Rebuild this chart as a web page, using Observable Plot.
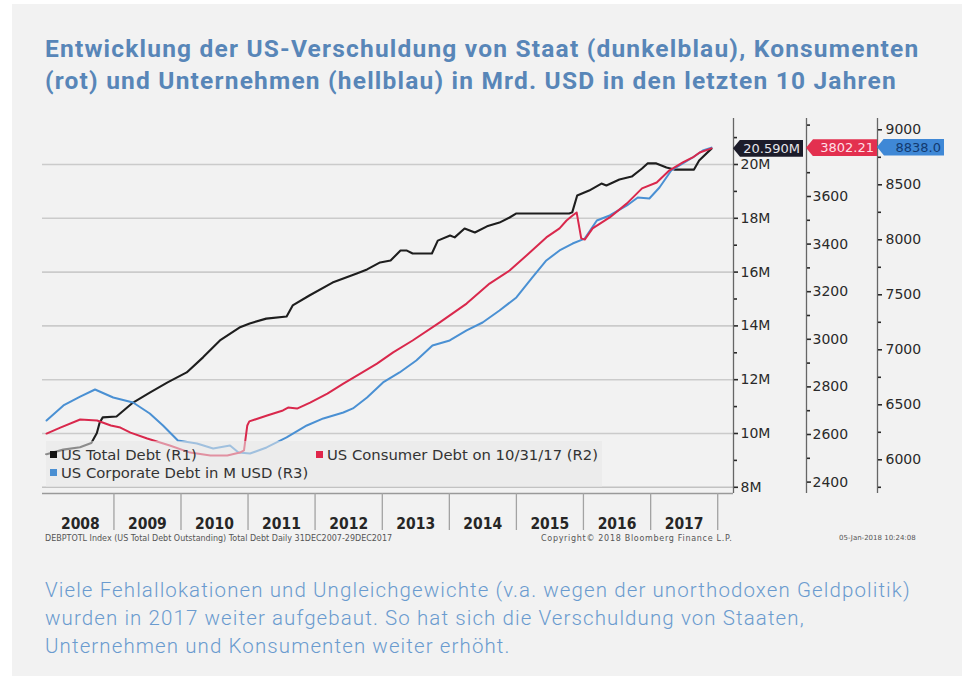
<!DOCTYPE html>
<html><head><meta charset="utf-8">
<script src="https://cdn.jsdelivr.net/npm/d3@7"></script>
<script src="https://cdn.jsdelivr.net/npm/@observablehq/plot@0.6"></script>
<style>
html,body{margin:0;padding:0;background:#fff;width:967px;height:677px;overflow:hidden;}
#panel{position:absolute;left:12px;top:4px;width:950px;height:672px;background:#f2f2f2;}
#title{position:absolute;left:45px;top:33px;font:bold 24.5px Roboto,sans-serif;letter-spacing:1.2px;color:#5886b8;line-height:32px;white-space:nowrap;}
#caption{position:absolute;left:45px;top:576px;font:300 20.5px Roboto,sans-serif;letter-spacing:1.1px;color:#6a9bcf;line-height:28px;white-space:nowrap;}
#chart{position:absolute;left:0;top:110px;width:967px;height:435px;}
#chart svg{position:absolute;left:0;top:0;background:transparent;overflow:visible;}
.leg{position:absolute;font:14.8px "DejaVu Sans",sans-serif;color:#333;white-space:nowrap;line-height:16px;}
.sq{position:absolute;width:7px;height:7px;}
.badge{position:absolute;height:17px;font:13px "DejaVu Sans",sans-serif;line-height:17px;text-align:right;padding-right:3px;box-sizing:border-box;clip-path:polygon(0 50%,7px 0,100% 0,100% 100%,7px 100%);}
.foot{position:absolute;top:534px;font:8px "DejaVu Sans",sans-serif;color:#555;white-space:nowrap;}
</style>
</head><body>
<div id="panel"></div>
<div id="title">Entwicklung der US-Verschuldung von Staat (dunkelblau), Konsumenten<br>(rot) und Unternehmen (hellblau) in Mrd. USD in den letzten 10 Jahren</div>
<div id="chart"></div>
<div id="caption">Viele Fehlallokationen und Ungleichgewichte (v.a. wegen der unorthodoxen Geldpolitik)<br>wurden in 2017 weiter aufgebaut. So hat sich die Verschuldung von Staaten,<br>Unternehmen und Konsumenten weiter erhöht.</div>
<script>
// ---------- data ----------
const totalDates = ["2007-12-31","2008-03-31","2008-06-30","2008-08-31","2008-09-30","2008-10-15","2008-11-01","2009-01-15","2009-04-15","2009-07-15","2009-10-20","2010-02-01","2010-05-01","2010-08-01","2010-11-15","2011-01-10","2011-04-10","2011-07-30","2011-09-01","2011-12-01","2012-04-05","2012-08-15","2012-10-10","2012-12-20","2013-02-15","2013-04-10","2013-05-15","2013-06-15","2013-09-28","2013-10-30","2014-01-05","2014-01-30","2014-03-25","2014-05-20","2014-07-25","2014-10-01","2014-11-25","2015-01-01","2015-02-25","2015-10-15","2015-11-01","2015-11-28","2016-02-01","2016-04-08","2016-05-05","2016-07-15","2016-09-20","2016-11-15","2016-12-15","2017-02-01","2017-03-28","2017-05-10","2017-08-25","2017-09-22","2017-11-28"];
const totalValues = [9.23,9.40,9.49,9.65,10.02,10.40,10.60,10.63,11.15,11.52,11.90,12.27,12.83,13.46,13.94,14.09,14.27,14.35,14.76,15.13,15.61,15.95,16.10,16.36,16.43,16.80,16.80,16.69,16.69,17.17,17.36,17.29,17.62,17.47,17.70,17.84,18.03,18.18,18.18,18.18,18.22,18.85,19.03,19.29,19.22,19.44,19.55,19.85,20.04,20.04,19.89,19.81,19.81,20.15,20.59];

const consumerDates = ["2007-12-31","2008-03-15","2008-07-01","2008-10-01","2008-12-15","2009-02-05","2009-04-01","2009-07-01","2009-11-01","2010-02-20","2010-06-10","2010-09-10","2010-11-18","2010-12-10","2010-12-28","2011-01-08","2011-04-15","2011-07-10","2011-08-07","2011-09-25","2011-12-05","2012-03-08","2012-06-03","2012-09-03","2012-12-03","2013-03-01","2013-06-15","2013-11-10","2014-04-05","2014-08-08","2014-11-25","2015-02-25","2015-06-13","2015-08-24","2015-10-01","2015-11-03","2015-11-25","2015-12-20","2016-01-08","2016-02-20","2016-05-23","2016-08-25","2016-11-15","2017-02-03","2017-04-12","2017-06-25","2017-08-18","2017-09-25","2017-11-28"];
const consumerValues = [2604,2629,2663,2659,2638,2629,2608,2583,2554,2524,2512,2512,2524,2533,2638,2655,2680,2701,2713,2709,2734,2772,2814,2856,2898,2945,2995,3071,3150,3234,3289,3352,3428,3466,3499,3520,3533,3424,3419,3466,3512,3571,3634,3659,3709,3743,3764,3785,3802.21];

const corporateDates = ["2007-12-31","2008-04-01","2008-07-01","2008-09-20","2008-12-28","2009-04-15","2009-07-15","2009-09-25","2009-12-15","2010-03-29","2010-06-25","2010-09-25","2010-11-10","2011-01-12","2011-04-12","2011-07-30","2011-11-17","2012-02-15","2012-06-03","2012-07-25","2012-10-10","2013-01-05","2013-04-05","2013-07-05","2013-10-01","2014-01-03","2014-04-05","2014-07-01","2014-10-01","2015-01-01","2015-03-28","2015-06-13","2015-08-24","2015-11-03","2016-01-08","2016-03-14","2016-05-23","2016-08-25","2016-10-23","2016-12-25","2017-02-18","2017-04-23","2017-06-25","2017-08-18","2017-10-12","2017-11-28"];
const corporateValues = [6357,6494,6575,6639,6566,6521,6421,6312,6175,6148,6103,6130,6066,6057,6112,6203,6312,6376,6430,6467,6566,6703,6794,6903,7039,7085,7176,7248,7357,7476,7657,7812,7903,7966,8011,8175,8221,8312,8385,8375,8475,8630,8694,8748,8812,8838];

const yearLabels = [2008,2009,2010,2011,2012,2013,2014,2015,2016,2017];
const r1Ticks = [8,10,12,14,16,18,20];
const r1Minor = [9,11,13,15,17,19,21];
const r2Ticks = [2400,2600,2800,3000,3200,3400,3600];
const r2Minor = [2500,2700,2900,3100,3300,3500,3700,3900];
const r3Ticks = [6000,6500,7000,7500,8000,8500,9000];
const r3Minor = [5750,6250,6750,7250,7750,8250,8750];
const legendItems = [
  {label:"US Total Debt (R1)", color:"#151515"},
  {label:"US Consumer Debt on 10/31/17 (R2)", color:"#e0264a"},
  {label:"US Corporate Debt in M USD (R3)", color:"#4a8fd2"}
];
const footLeft = "DEBPTOTL Index (US Total Debt Outstanding) Total Debt  Daily 31DEC2007-29DEC2017";
const footMid = "Copyright\u00A9 2018 Bloomberg Finance L.P.";
const footRight = "05-Jan-2018 10:24:08";

// ---------- build ----------
const parse = d3.utcParse("%Y-%m-%d");
const zip = (ds, vs) => ds.map((d,i) => ({date: parse(d), value: vs[i]}));
const total = zip(totalDates, totalValues);
const consumer = zip(consumerDates, consumerValues);
const corporate = zip(corporateDates, corporateValues);

const W = 967, H = 435, ML = 42, MR = 234, MT = 8, MB = 52;
const xDomain = [parse("2007-12-09"), parse("2018-03-28")];
const yearStarts = yearLabels.map(y => new Date(Date.UTC(y + 1, 0, 1)));
const yearMids = yearLabels.map(y => new Date(Date.UTC(y, 6, 2)));
const r1Domain = [7.769, 21.71];
const r2Domain = [2352.1, 3927.7];
const r3Domain = [5693.6, 9102.7];
const FONT = "DejaVu Sans, sans-serif";
const DX2 = 73, DX3 = 144;

function make(yDomain, marks, xAxis) {
  return Plot.plot({
    width: W, height: H, marginLeft: ML, marginRight: MR, marginTop: MT, marginBottom: MB,
    x: xAxis ? {type: "utc", domain: xDomain, label: null} : {type: "utc", domain: xDomain, axis: null, label: null},
    y: {domain: yDomain, label: null},
    style: {background: "transparent", fontFamily: FONT, overflow: "visible"},
    marks
  });
}
const axisOpts = {anchor: "right", tickSize: 4, tickPadding: 3, fontSize: 14, color: "#2a2a2a", strokeWidth: 1.6, label: null};

const p1 = make(r1Domain, [
  Plot.ruleY(r1Ticks.filter(d => d > 8), {stroke: "#cbcbcb", strokeWidth: 1.6}),
  Plot.ruleY([8], {stroke: "#c2c2c2", strokeWidth: 1.6}),
  Plot.ruleY([r1Domain[0]], {stroke: "#9a9a9a", strokeWidth: 1.6}),
  Plot.axisX({ticks: yearStarts, tickSize: 37, tickFormat: () => "", stroke: "#a3a3a3", strokeWidth: 1.3, label: null}),
  Plot.axisX({ticks: yearMids, tickSize: 0, tickPadding: 24, tickFormat: d => String(d.getUTCFullYear()),
    fontSize: 15.5, fontWeight: "bold", fontFamily: "'Liberation Sans Narrow','DejaVu Sans Condensed',sans-serif", fill: "#262626", label: null}),
  Plot.ruleX([xDomain[1]], {stroke: "#666", strokeWidth: 1.3}),
  Plot.axisY({...axisOpts, ticks: r1Ticks, tickFormat: d => d + "M"}),
  Plot.axisY({...axisOpts, ticks: r1Minor, tickSize: 3, tickFormat: () => ""}),
  Plot.line(total, {x: "date", y: "value", stroke: "#1e1e1e", strokeWidth: 2.1})
], true);

const p3 = make(r3Domain, [
  Plot.ruleX([xDomain[1]], {dx: DX3, stroke: "#666", strokeWidth: 1.3}),
  Plot.axisY({...axisOpts, dx: DX3, tickPadding: 4, ticks: r3Ticks, tickFormat: d => String(d)}),
  Plot.axisY({...axisOpts, dx: DX3, ticks: r3Minor, tickSize: 3, tickFormat: () => ""}),
  Plot.line(corporate, {x: "date", y: "value", stroke: "#4a90d3", strokeWidth: 2})
], false);

const p2 = make(r2Domain, [
  Plot.ruleX([xDomain[1]], {dx: DX2, stroke: "#666", strokeWidth: 1.3}),
  Plot.axisY({...axisOpts, dx: DX2, tickPadding: 2, ticks: r2Ticks, tickFormat: d => String(d)}),
  Plot.axisY({...axisOpts, dx: DX2, ticks: r2Minor, tickSize: 3, tickFormat: () => ""}),
  Plot.line(consumer, {x: "date", y: "value", stroke: "#d9284c", strokeWidth: 2})
], false);

const chart = document.getElementById("chart");
chart.append(p1, p3, p2);

// legend (overlay box)
const TOP = 110;
function addDiv(cls, css, text) {
  const d = document.createElement("div");
  d.className = cls; Object.assign(d.style, css);
  if (text != null) d.textContent = text;
  document.body.appendChild(d); return d;
}
addDiv("", {position: "absolute", left: "46px", top: "441px", width: "556px", height: "46px", background: "rgba(232,232,232,0.55)"});
const legPos = [[50, 455], [316, 455], [50, 473]];
legendItems.forEach((it, i) => {
  const [lx, ly] = legPos[i];
  addDiv("sq", {left: lx + "px", top: (ly - 4) + "px", background: it.color});
  addDiv("leg", {left: (lx + 11) + "px", top: (ly - 8) + "px"}, it.label);
});

// value badges at the axes, positioned through each plot's y scale
const axX = W - MR;
const badges = [
  {plot: p1, v: totalValues[totalValues.length - 1], text: "20.590M", left: axX, w: 70, bg: "#1c1c2a", fg: "#e6e6ea"},
  {plot: p2, v: consumerValues[consumerValues.length - 1], text: "3802.21", left: axX + DX2, w: 71, bg: "#e3304f", fg: "#ffdfe5"},
  {plot: p3, v: corporateValues[corporateValues.length - 1], text: "8838.0", left: axX + DX3, w: 67, bg: "#3f88d6", fg: "#123a70"}
];
badges.forEach(b => {
  const y = TOP + b.plot.scale("y").apply(b.v);
  addDiv("badge", {left: b.left + "px", top: (y - 8.5) + "px", width: b.w + "px", background: b.bg, color: b.fg}, b.text);
});

addDiv("foot", {left: "45px"}, footLeft);
addDiv("foot", {left: "541px", letterSpacing: "0.7px"}, footMid);
addDiv("foot", {left: "839px", fontSize: "7px"}, footRight);
</script>
</body></html>
